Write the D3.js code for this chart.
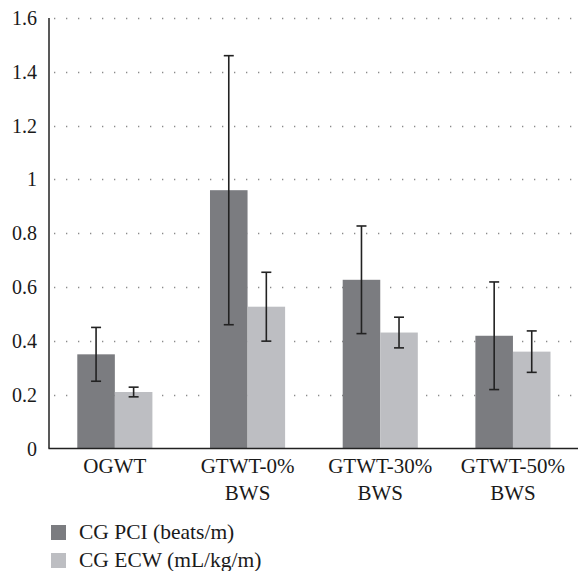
<!DOCTYPE html>
<html>
<head>
<meta charset="utf-8">
<script src="https://cdn.jsdelivr.net/npm/d3@7"></script>
<style>
  body { margin: 0; background: #fff; }
  svg { display: block; }
  text { font-family: "Liberation Serif", "DejaVu Serif", serif; fill: #1a1a1a; }
</style>
</head>
<body>
<svg id="chart" width="578" height="571"></svg>
<script>
const categories = [["OGWT"], ["GTWT-0%", "BWS"], ["GTWT-30%", "BWS"], ["GTWT-50%", "BWS"]];
const seriesNames = ["CG PCI (beats/m)", "CG ECW (mL/kg/m)"];
const pciValues = [0.35, 0.96, 0.627, 0.419];
const pciErrors = [0.10, 0.50, 0.20, 0.20];
const ecwValues = [0.21, 0.527, 0.431, 0.36];
const ecwErrors = [0.018, 0.128, 0.057, 0.077];
const yTicks = [0, 0.2, 0.4, 0.6, 0.8, 1, 1.2, 1.4, 1.6];
const colors = ["#7b7c80", "#bdbec2"];

const svg = d3.select("#chart");
const x0 = 48.5, x1 = 579.3, yBottom = 448.5, yTop = 18;

const y = d3.scaleLinear().domain([0, 1.6]).range([yBottom, yTop]);
const x = d3.scaleBand().domain(d3.range(categories.length)).range([x0, x1])
  .paddingInner(0.434).paddingOuter(0.217);
const xs = d3.scaleBand().domain([0, 1]).range([0, x.bandwidth()]);

// grid (dotted)
svg.append("g").selectAll("line").data(yTicks.filter(d => d > 0)).join("line")
  .attr("x1", 54).attr("x2", 578)
  .attr("y1", d => Math.round(y(d)) + 0.5).attr("y2", d => Math.round(y(d)) + 0.5)
  .attr("stroke", "#8a8a8a").attr("stroke-width", 1.3)
  .attr("stroke-dasharray", "1.3,10.7");

// bars
const data = categories.map((c, i) => [
  { i, s: 0, v: pciValues[i], e: pciErrors[i] },
  { i, s: 1, v: ecwValues[i], e: ecwErrors[i] }
]).flat();

svg.append("g").selectAll("rect").data(data).join("rect")
  .attr("x", d => x(d.i) + xs(d.s))
  .attr("width", xs.bandwidth())
  .attr("y", d => y(d.v))
  .attr("height", d => y(0) - y(d.v))
  .attr("fill", d => colors[d.s]);

// error bars
const eg = svg.append("g").attr("stroke", "#222").attr("stroke-width", 1.6);
data.forEach(d => {
  const cx = x(d.i) + xs(d.s) + xs.bandwidth() / 2;
  eg.append("line").attr("x1", cx).attr("x2", cx).attr("y1", y(d.v + d.e)).attr("y2", y(d.v - d.e));
  eg.append("line").attr("x1", cx - 5).attr("x2", cx + 5).attr("y1", y(d.v + d.e)).attr("y2", y(d.v + d.e));
  eg.append("line").attr("x1", cx - 5).attr("x2", cx + 5).attr("y1", y(d.v - d.e)).attr("y2", y(d.v - d.e));
});

// axes
svg.append("line").attr("x1", 49).attr("x2", 49).attr("y1", yTop).attr("y2", yBottom)
  .attr("stroke", "#222").attr("stroke-width", 1.5);
svg.append("line").attr("x1", 48.5).attr("x2", 578).attr("y1", yBottom).attr("y2", yBottom)
  .attr("stroke", "#222").attr("stroke-width", 1.5);

// y tick labels
svg.append("g").selectAll("text").data(yTicks).join("text")
  .attr("x", 37).attr("y", d => y(d)).attr("dy", "0.35em")
  .attr("text-anchor", "end").attr("font-size", 20)
  .text(d => d3.format("~g")(d));

// category labels
const cl = svg.append("g").selectAll("text").data(categories).join("text")
  .attr("text-anchor", "middle").attr("font-size", 21)
  .attr("transform", (d, i) => `translate(${x(i) + x.bandwidth() / 2},0)`);
cl.selectAll("tspan").data(d => d).join("tspan")
  .attr("x", 0).attr("y", (d, j) => 473 + j * 27).text(d => d);

// legend
const lg = svg.append("g").selectAll("g").data(seriesNames).join("g")
  .attr("transform", (d, i) => `translate(51,${525 + i * 28})`);
lg.append("rect").attr("width", 15).attr("height", 15).attr("fill", (d, i) => colors[i]);
lg.append("text").attr("x", 28).attr("y", 14).attr("font-size", 21.5).text(d => d);
</script>
</body>
</html>
